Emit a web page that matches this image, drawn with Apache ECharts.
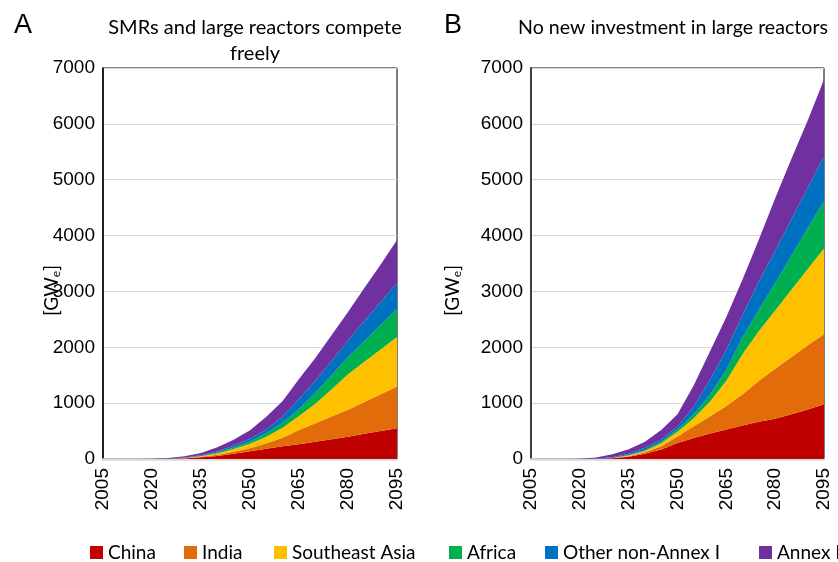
<!DOCTYPE html>
<html><head><meta charset="utf-8">
<script src="https://cdn.jsdelivr.net/npm/echarts/dist/echarts.min.js"></script>
<style>html,body{margin:0;padding:0;background:#fff}#c{width:838px;height:562px}</style>
</head><body><div id="c"></div>
<script>
// Years (every 5 years)
const years = ['2005','2010','2015','2020','2025','2030','2035','2040','2045','2050','2055','2060','2065','2070','2075','2080','2085','2090','2095'];
const regions = ['China','India','Southeast Asia','Africa','Other non-Annex I','Annex I'];
const colors = ['#c00000','#e36c0a','#ffc000','#00b050','#0070c0','#7030a0'];

// Panel A: SMRs and large reactors compete freely [GWe]
const chinaA  = [0,0,0,0,3,10,30,55,95,140,185,230,265,310,355,400,450,500,550];
const indiaA  = [0,0,0,0,1,4,10,20,35,54,95,150,255,330,405,480,570,660,748];
const seaA    = [0,0,0,0,1,4,10,25,50,79,120,180,250,350,490,636,720,800,887];
const africaA = [0,0,0,0,1,2,5,15,25,42,60,90,126,190,250,308,370,440,503];
const otherA  = [0,0,0,0,2,5,10,20,35,49,70,110,179,220,260,298,360,410,466];
const annexA  = [0,0,0,3,12,25,43,77,105,151,228,280,355,410,460,508,590,670,766];

// Panel B: No new investment in large reactors [GWe]
const chinaB  = [0,0,0,0,3,12,40,95,170,285,375,455,530,600,665,720,800,885,980];
const indiaB  = [0,0,0,0,1,3,10,25,60,120,210,310,420,560,735,895,1025,1150,1255];
const seaB    = [0,0,0,0,1,3,12,25,50,85,145,265,450,720,890,1045,1205,1365,1535];
const africaB = [0,0,0,0,1,2,8,15,30,40,70,120,200,300,380,490,610,730,845];
const otherB  = [0,0,0,0,2,10,25,40,40,50,140,270,360,400,510,580,656,727,805];
const annexB  = [0,0,0,3,17,54,80,110,170,220,380,510,580,640,750,936,1079,1203,1376];

// Y-axis tick labels
const yTicks = ['0','1000','2000','3000','4000','5000','6000','7000'];

const panelA = [chinaA, indiaA, seaA, africaA, otherA, annexA];
const panelB = [chinaB, indiaB, seaB, africaB, otherB, annexB];

const tickFont = 'Liberation Sans, Arial, sans-serif';
const textFont = 'Lato, Carlito, sans-serif';

function xAxis(g){
  return {type:'category', gridIndex:g, data:years, boundaryGap:false,
    axisLine:{show:true, lineStyle:{color:'#d9d9d9', width:2.5}},
    axisTick:{show:false}, splitLine:{show:false},
    axisLabel:{interval:2, rotate:90, fontSize:19, color:'#000', fontFamily:tickFont, margin:9}};
}
function yAxis(g, gap, lineColor, lw){
  return {type:'value', gridIndex:g, min:0, max:7000, interval:1000,
    axisLine:{show:true, lineStyle:{color:lineColor, width:lw}},
    axisTick:{show:false},
    splitLine:{lineStyle:{color:'#d9d9d9', width:1.2}},
    axisLabel:{fontSize:19, color:'#000', fontFamily:tickFont, margin:8,
      formatter:(v)=>{ const t = yTicks[Math.round(v/1000)]; return t !== undefined ? t : String(v); }},
    name:'[GW{s|e}]', nameLocation:'middle', nameRotate:90, nameGap:gap, nameMoveOverlap:false,
    nameTextStyle:{fontFamily:textFont, fontSize:19, color:'#000', padding:[0,54,0,0],
      rich:{s:{fontFamily:textFont, fontSize:12, color:'#000', padding:[9,0,0,0]}}}};
}

const series = [];
[panelA, panelB].forEach((panel, p) => {
  panel.forEach((vals, i) => {
    series.push({
      name: regions[i], type:'line', stack: p ? 'B' : 'A',
      xAxisIndex:p, yAxisIndex:p, data: vals,
      showSymbol:false, symbol:'none',
      lineStyle:{width:0}, itemStyle:{color:colors[i]},
      areaStyle:{color:colors[i], opacity:1}
    });
  });
});

const legendX = [90,184,274,449,545,759];
const legends = regions.map((r,i)=>({
  data:[r], left:legendX[i], top:543, padding:0,
  icon:'rect', itemWidth:13, itemHeight:13, selectedMode:false,
  textStyle:{fontFamily:textFont, fontSize:19, color:'#000'}
}));

const option = {
  animation:false,
  backgroundColor:'#fff',
  title:[
    {text:'A', left:9, top:7, textStyle:{fontFamily:tickFont, fontSize:27, fontWeight:'normal', color:'#000'}},
    {text:'B', left:439, top:7, textStyle:{fontFamily:tickFont, fontSize:27, fontWeight:'normal', color:'#000'}},
    {text:'SMRs and large reactors compete\nfreely', left:250, textAlign:'center', top:10,
      textStyle:{fontFamily:textFont, fontSize:20, fontWeight:'normal', color:'#000', lineHeight:26}},
    {text:'No new investment in large reactors', left:668, textAlign:'center', top:10,
      textStyle:{fontFamily:textFont, fontSize:19.6, fontWeight:'normal', color:'#000', lineHeight:26}}
  ],
  legend: legends,
  grid:[
    {left:103, width:294, top:68, height:391, show:true, borderColor:'#000', borderWidth:1, backgroundColor:'transparent'},
    {left:531, width:293, top:68, height:391, show:true, borderColor:'#000', borderWidth:1, backgroundColor:'transparent'}
  ],
  xAxis:[xAxis(0), xAxis(1)],
  yAxis:[yAxis(0, 41, '#000', 1.5), yAxis(1, 68, '#404040', 2)],
  series: series
};
const chart = echarts.init(document.getElementById('c'), null, {renderer:'canvas'});
chart.setOption(option);
</script>
</body></html>
